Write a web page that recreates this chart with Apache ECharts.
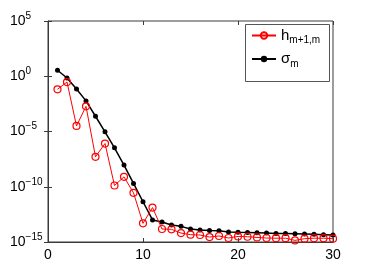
<!DOCTYPE html>
<html>
<head>
<meta charset="utf-8">
<script src="https://cdn.jsdelivr.net/npm/echarts@6/dist/echarts.min.js"></script>
<style>html,body{margin:0;padding:0;background:#fff;}#c{width:368px;height:273px;}</style>
</head>
<body>
<div id="c"></div>
<script>
var mIndex = [1,2,3,4,5,6,7,8,9,10,11,12,13,14,15,16,17,18,19,20,21,22,23,24,25,26,27,28,29,30];
var hValues = [6.6e-2,3.0e-1,3.2e-5,1.9e-3,5.1e-8,8.1e-7,1.3e-10,7.9e-10,2.8e-11,4.9e-14,1.3e-12,1.5e-14,1.4e-14,6.4e-15,4.6e-15,4.3e-15,2.8e-15,3.5e-15,2.3e-15,3.2e-15,3.0e-15,2.6e-15,2.3e-15,2.2e-15,2.2e-15,1.4e-15,2.0e-15,2.2e-15,2.2e-15,2.0e-15];
var sigmaValues = [3.5e0,6.9e-1,7.1e-2,5.9e-3,2.4e-4,9.3e-6,3.3e-7,9.1e-9,2.0e-10,4.4e-12,1.0e-13,6.5e-14,3.5e-14,2.6e-14,1.5e-14,1.2e-14,1.1e-14,1.05e-14,7.9e-15,7.5e-15,7.3e-15,6.9e-15,6.5e-15,6.0e-15,5.8e-15,5.5e-15,5.2e-15,4.9e-15,4.6e-15,4.3e-15];
var xTicks = [0,10,20,30];
var yTickExps = [-15,-10,-5,0,5];
var seriesNames = ['h','sigma'];

function pairs(vals){ return mIndex.map(function(m,i){ return [m, vals[i]]; }); }

var chart = echarts.init(document.getElementById('c'), null, {renderer:'canvas'});
var axisColor = '#3a3a3a';
var font = 'Liberation Sans, Arial, sans-serif';
chart.setOption({
  animation: false,
  backgroundColor: '#fff',
  grid: {left: 48, top: 21, right: 35, bottom: 31, show: true, borderColor: axisColor, borderWidth: 1, backgroundColor: 'transparent'},
  xAxis: [{
    type: 'value', min: xTicks[0], max: xTicks[xTicks.length-1], interval: 10,
    axisLine: {show: true, lineStyle: {color: axisColor, width: 1}},
    axisTick: {show: true, inside: true, length: 4, lineStyle: {color: axisColor}},
    splitLine: {show: false},
    axisLabel: {color: '#000', fontSize: 14, fontFamily: font, margin: 6}
  },{
    type: 'value', position: 'top', min: xTicks[0], max: xTicks[xTicks.length-1], interval: 10,
    axisLine: {show: false},
    axisTick: {show: true, inside: true, length: 4, lineStyle: {color: axisColor}},
    splitLine: {show: false}, axisLabel: {show: false}
  }],
  yAxis: [{
    type: 'log', logBase: 10, min: Math.pow(10, yTickExps[0]), max: Math.pow(10, yTickExps[yTickExps.length-1]), interval: 5,
    axisLine: {show: true, lineStyle: {color: axisColor, width: 1}},
    axisTick: {show: true, inside: true, length: 4, lineStyle: {color: axisColor}},
    splitLine: {show: false},
    minorTick: {show: false},
    axisLabel: {
      align: 'left', margin: 38, fontFamily: font,
      formatter: function(v){
        var e = Math.round(Math.log10(v));
        var es = e < 0 ? '\u2212' + (-e) : '' + e;
        return '{b|10}{e|' + es + '}';
      },
      rich: {
        b: {fontSize: 14, color: '#000', fontFamily: font},
        e: {fontSize: 10, color: '#000', fontFamily: font, padding: [0,0,10,0]}
      }
    }
  },{
    type: 'log', logBase: 10, position: 'right', min: Math.pow(10, yTickExps[0]), max: Math.pow(10, yTickExps[yTickExps.length-1]), interval: 5,
    axisLine: {show: false},
    axisTick: {show: true, inside: true, length: 4, lineStyle: {color: axisColor}},
    splitLine: {show: false}, axisLabel: {show: false}
  }],
  legend: {
    orient: 'vertical', left: 251, top: 28, padding: 0, itemGap: 6,
    itemWidth: 24, itemHeight: 8,
    data: seriesNames,
    formatter: function(name){
      return name === 'h' ? '{m|h}{s|m+1,m}' : '{m|\u03c3}{s|m}';
    },
    textStyle: {
      rich: {
        m: {fontSize: 15, color: '#000', fontFamily: font},
        s: {fontSize: 10, color: '#000', fontFamily: font, padding: [10,0,0,0]}
      }
    }
  },
  graphic: [{
    type: 'rect', left: 245, top: 24, z: 0,
    shape: {width: 84, height: 57},
    style: {fill: '#fff', stroke: '#555', lineWidth: 1}
  }],
  series: [{
    name: 'sigma', type: 'line', data: pairs(sigmaValues),
    symbol: 'circle', symbolSize: 5,
    lineStyle: {color: '#000', width: 1.5},
    itemStyle: {color: '#000'},
    z: 3
  },{
    name: 'h', type: 'line', data: pairs(hValues),
    symbol: 'circle', symbolSize: 7,
    lineStyle: {color: '#ff0000', width: 1},
    itemStyle: {color: 'rgba(0,0,0,0)', borderColor: '#ff0000', borderWidth: 1.2},
    z: 4
  }]
});
</script>
</body>
</html>
